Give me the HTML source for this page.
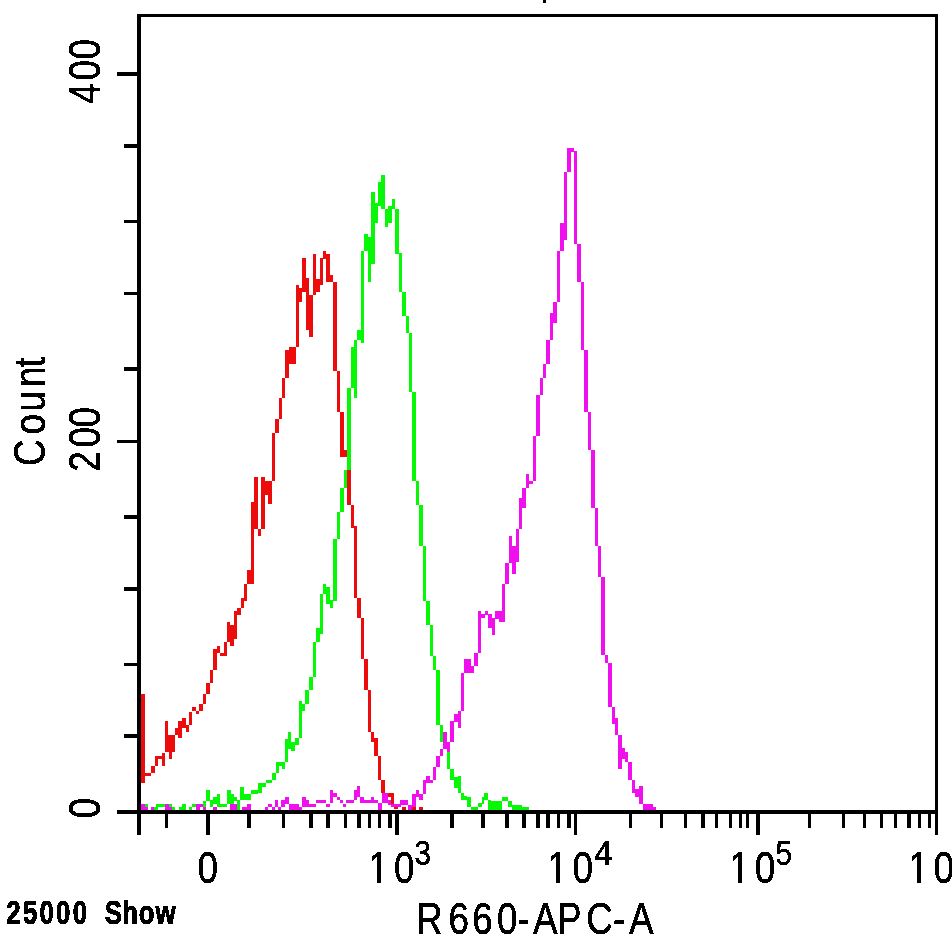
<!DOCTYPE html>
<html lang="en">
<head>
<meta charset="utf-8">
<title>R660-APC-A histogram</title>
<style>
html,body{margin:0;padding:0;background:#fff;}
body{width:952px;height:942px;overflow:hidden;position:relative;}
svg{display:block;position:absolute;left:0;top:0;}
</style>
</head>
<body>
<svg width="952" height="942" viewBox="0 0 952 942" shape-rendering="crispEdges">
<defs><filter id="hb" x="-5%" y="-20%" width="110%" height="140%"><feComponentTransfer><feFuncA type="discrete" tableValues="0 1"/></feComponentTransfer></filter><filter id="th" x="-10%" y="-10%" width="120%" height="120%"><feComponentTransfer><feFuncA type="discrete" tableValues="0 1"/></feComponentTransfer></filter><clipPath id="c3"><path clip-rule="evenodd" d="M339.5 830H439.5V900H339.5Z M368.5 878.5H377V885H368.5Z M381 878.5H390.5V885H381Z"/></clipPath><clipPath id="c4"><path clip-rule="evenodd" d="M518.5 830H618.5V900H518.5Z M547.5 878.5H556V885H547.5Z M560 878.5H569.5V885H560Z"/></clipPath><clipPath id="c5"><path clip-rule="evenodd" d="M700.3 830H800.3V900H700.3Z M729.3 878.5H737.8V885H729.3Z M741.8 878.5H751.3V885H741.8Z"/></clipPath><clipPath id="c6"><path clip-rule="evenodd" d="M879.5 830H979.5V900H879.5Z M908.5 878.5H917V885H908.5Z M921 878.5H930.5V885H921Z"/></clipPath></defs>
<g fill="#000">
<rect x="137" y="14" width="4" height="821"/>
<rect x="137" y="14" width="801" height="3"/>
<rect x="935" y="14" width="3" height="821"/>
<rect x="117" y="810" width="821" height="4"/>
<rect x="543" y="0" width="3" height="3"/>
<rect x="117" y="72" width="20" height="4"/>
<rect x="117" y="440" width="20" height="3"/>
<rect x="124" y="144" width="13" height="4"/>
<rect x="124" y="220" width="13" height="3"/>
<rect x="124" y="292" width="13" height="3"/>
<rect x="124" y="367" width="13" height="4"/>
<rect x="124" y="515" width="13" height="4"/>
<rect x="124" y="587" width="13" height="4"/>
<rect x="124" y="663" width="13" height="3"/>
<rect x="124" y="734" width="13" height="4"/>
<rect x="206" y="814" width="4" height="21"/>
<rect x="395" y="814" width="4" height="21"/>
<rect x="574" y="814" width="3" height="21"/>
<rect x="756" y="814" width="4" height="21"/>
<rect x="165" y="814" width="3" height="14"/>
<rect x="247" y="814" width="4" height="14"/>
<rect x="282" y="814" width="3" height="14"/>
<rect x="309" y="814" width="4" height="14"/>
<rect x="326" y="814" width="4" height="14"/>
<rect x="344" y="814" width="3" height="14"/>
<rect x="357" y="814" width="4" height="14"/>
<rect x="368" y="814" width="3" height="14"/>
<rect x="378" y="814" width="3" height="14"/>
<rect x="388" y="814" width="4" height="14"/>
<rect x="450" y="814" width="4" height="14"/>
<rect x="481" y="814" width="4" height="14"/>
<rect x="505" y="814" width="4" height="14"/>
<rect x="522" y="814" width="4" height="14"/>
<rect x="536" y="814" width="4" height="14"/>
<rect x="546" y="814" width="4" height="14"/>
<rect x="557" y="814" width="3" height="14"/>
<rect x="567" y="814" width="4" height="14"/>
<rect x="629" y="814" width="3" height="14"/>
<rect x="660" y="814" width="3" height="14"/>
<rect x="684" y="814" width="3" height="14"/>
<rect x="701" y="814" width="4" height="14"/>
<rect x="715" y="814" width="3" height="14"/>
<rect x="729" y="814" width="3" height="14"/>
<rect x="739" y="814" width="3" height="14"/>
<rect x="746" y="814" width="3" height="14"/>
<rect x="808" y="814" width="3" height="14"/>
<rect x="842" y="814" width="3" height="14"/>
<rect x="863" y="814" width="3" height="14"/>
<rect x="880" y="814" width="3" height="14"/>
<rect x="894" y="814" width="3" height="14"/>
<rect x="907" y="814" width="4" height="14"/>
<rect x="918" y="814" width="3" height="14"/>
<rect x="928" y="814" width="3" height="14"/>
</g>
<g fill="#ec0c0c">
<rect x="141" y="694" width="3.5" height="89"/>
<rect x="144.5" y="773" width="6.5" height="3"/>
<rect x="151" y="766" width="4" height="7"/>
<rect x="155" y="756" width="3" height="10"/>
<rect x="158" y="756" width="4" height="3"/>
<rect x="162" y="752.5" width="3" height="13"/>
<rect x="165" y="721" width="3" height="31"/>
<rect x="168" y="735" width="7" height="17"/>
<rect x="168.5" y="752" width="3" height="6.7"/>
<rect x="175" y="728" width="3" height="7"/>
<rect x="178" y="721" width="4" height="17"/>
<rect x="182" y="718" width="3.6" height="10"/>
<rect x="185.6" y="725" width="3.4" height="7"/>
<rect x="189" y="711.5" width="3" height="13.5"/>
<rect x="192" y="707" width="3.5" height="4"/>
<rect x="195.5" y="710.6" width="3.5" height="3.2"/>
<rect x="199" y="704" width="4" height="6.6"/>
<rect x="203" y="694" width="3" height="10"/>
<rect x="206" y="683" width="4" height="11"/>
<rect x="210" y="669.7" width="3.4" height="13.3"/>
<rect x="213.4" y="649.4" width="3.4" height="20.3"/>
<rect x="216.8" y="646" width="3.2" height="6.7"/>
<rect x="220" y="652.7" width="3.5" height="2.9"/>
<rect x="223.5" y="642.4" width="3.5" height="13.2"/>
<rect x="227" y="622" width="3.4" height="20.4"/>
<rect x="230.4" y="625" width="3.4" height="20.6"/>
<rect x="233.8" y="611" width="3.2" height="27.7"/>
<rect x="237" y="608" width="3.7" height="6.5"/>
<rect x="240.7" y="598" width="3.5" height="10"/>
<rect x="244.2" y="584" width="3.1" height="17"/>
<rect x="247.3" y="570.4" width="3.5" height="13.1"/>
<rect x="250.8" y="501.7" width="3.6" height="81.8"/>
<rect x="254.4" y="477" width="3.4" height="52"/>
<rect x="257.8" y="529" width="3.4" height="6.7"/>
<rect x="261.2" y="477" width="3.8" height="52"/>
<rect x="265" y="481.3" width="3" height="13.7"/>
<rect x="268" y="481.3" width="3.8" height="23"/>
<rect x="271.8" y="433" width="3.4" height="47.5"/>
<rect x="275.2" y="419.3" width="3.3" height="13.7"/>
<rect x="278.5" y="397.7" width="3.5" height="21.6"/>
<rect x="282" y="378" width="3.2" height="19.7"/>
<rect x="285.2" y="350" width="3.8" height="28"/>
<rect x="289" y="347" width="6.7" height="17"/>
<rect x="295.7" y="285.3" width="3.5" height="61.7"/>
<rect x="299.2" y="287.8" width="2.8" height="13.8"/>
<rect x="302" y="258.2" width="3.9" height="33.4"/>
<rect x="305.9" y="278.2" width="2.8" height="51.6"/>
<rect x="308.7" y="295" width="3.9" height="41.5"/>
<rect x="312.6" y="254.3" width="3.2" height="40.7"/>
<rect x="315.8" y="279.2" width="3.8" height="12.8"/>
<rect x="319.6" y="258.2" width="3.5" height="27.1"/>
<rect x="323.1" y="251" width="3.2" height="8"/>
<rect x="326.3" y="254.3" width="3.5" height="27.4"/>
<rect x="329.8" y="275.4" width="3.2" height="6.6"/>
<rect x="333" y="282" width="3.8" height="89"/>
<rect x="336.8" y="371" width="3.5" height="41"/>
<rect x="340.3" y="411.7" width="3.3" height="45"/>
<rect x="343.6" y="450.3" width="3.4" height="6.4"/>
<rect x="347" y="456.7" width="4.3" height="48.1"/>
<rect x="351.3" y="504.8" width="2.7" height="23.2"/>
<rect x="354" y="525.5" width="3.4" height="72.2"/>
<rect x="357.4" y="597.7" width="3.4" height="20.3"/>
<rect x="360.8" y="618" width="3.4" height="40.8"/>
<rect x="364.2" y="658.8" width="3.6" height="31.2"/>
<rect x="367.8" y="690" width="3.2" height="42"/>
<rect x="371" y="732" width="3.4" height="9.5"/>
<rect x="374.4" y="738.2" width="3.3" height="17.6"/>
<rect x="377.7" y="755.8" width="3.3" height="24.2"/>
<rect x="381" y="780" width="3.6" height="13"/>
<rect x="384.6" y="793" width="9.4" height="4"/>
<rect x="390.5" y="793" width="3.5" height="14"/>
<rect x="394" y="805" width="3.7" height="4"/>
<rect x="402" y="807" width="3.7" height="3"/>
<rect x="412" y="807" width="3.5" height="3"/>
<rect x="419" y="807" width="3.7" height="3"/>
</g>
<g fill="#06f806">
<rect x="144.5" y="804" width="3" height="3"/>
<rect x="154.4" y="807" width="3.4" height="3"/>
<rect x="155.8" y="804" width="9.5" height="3"/>
<rect x="168.7" y="804" width="2.8" height="3"/>
<rect x="171.5" y="807" width="3.1" height="3"/>
<rect x="179" y="807" width="3" height="3"/>
<rect x="182" y="804" width="3.5" height="6"/>
<rect x="189.2" y="807" width="3" height="3"/>
<rect x="192.2" y="804" width="3.8" height="3"/>
<rect x="202.9" y="800.6" width="3" height="6.4"/>
<rect x="205.9" y="790" width="3.8" height="10.6"/>
<rect x="209.7" y="799.6" width="3.4" height="7.4"/>
<rect x="213.1" y="797" width="3.4" height="6.7"/>
<rect x="216.5" y="793.5" width="3.5" height="13.5"/>
<rect x="220" y="804" width="7.4" height="3"/>
<rect x="227.4" y="790" width="3.5" height="14"/>
<rect x="230.9" y="793.5" width="2.7" height="10.5"/>
<rect x="233.6" y="797" width="3.4" height="4"/>
<rect x="237" y="800.3" width="3.4" height="9.7"/>
<rect x="240.4" y="786.6" width="3.4" height="13.7"/>
<rect x="243.8" y="793.5" width="6.9" height="6.1"/>
<rect x="250.7" y="790" width="7.5" height="3.5"/>
<rect x="258.2" y="783.2" width="3.4" height="9.3"/>
<rect x="261.6" y="782.6" width="4.2" height="4"/>
<rect x="265.8" y="780" width="6.5" height="3"/>
<rect x="272.3" y="772.7" width="3.3" height="7.3"/>
<rect x="275.6" y="762.4" width="3.4" height="10.3"/>
<rect x="279" y="762.4" width="3.2" height="3.6"/>
<rect x="282.2" y="762.4" width="2.8" height="6.2"/>
<rect x="285" y="738.7" width="3.3" height="23.7"/>
<rect x="288.3" y="732.4" width="3" height="16.5"/>
<rect x="291.3" y="742.3" width="4.1" height="9"/>
<rect x="295.4" y="738.2" width="3.3" height="6.5"/>
<rect x="298.7" y="701" width="3.3" height="37.2"/>
<rect x="302" y="703.6" width="3.3" height="7.4"/>
<rect x="305.3" y="690" width="3.7" height="14"/>
<rect x="309" y="677" width="3.7" height="13"/>
<rect x="312.7" y="642" width="3.6" height="35"/>
<rect x="316.3" y="628" width="3.7" height="14"/>
<rect x="320" y="594" width="3" height="40"/>
<rect x="323" y="584" width="3.3" height="10"/>
<rect x="326.3" y="587" width="3.4" height="16.7"/>
<rect x="329.7" y="600" width="3.3" height="7.6"/>
<rect x="333" y="539" width="4" height="61.8"/>
<rect x="337" y="512" width="3.2" height="27"/>
<rect x="340.2" y="488" width="3.8" height="24"/>
<rect x="344" y="470.3" width="3.3" height="17.7"/>
<rect x="347.3" y="388" width="3.7" height="82.3"/>
<rect x="351" y="347" width="3" height="41"/>
<rect x="354" y="340.4" width="3" height="57.3"/>
<rect x="357" y="330.2" width="3.7" height="10.2"/>
<rect x="360.7" y="251" width="3.5" height="92.2"/>
<rect x="364.2" y="234" width="3.6" height="17"/>
<rect x="367.8" y="237" width="3.5" height="44.7"/>
<rect x="371.3" y="192.2" width="3.5" height="71.8"/>
<rect x="374.8" y="203" width="3.2" height="19.6"/>
<rect x="378" y="182" width="3.2" height="24.2"/>
<rect x="381.2" y="175.2" width="3.6" height="33.4"/>
<rect x="385" y="209" width="3" height="17.7"/>
<rect x="388" y="206.2" width="4" height="16.4"/>
<rect x="392" y="199" width="3" height="9.8"/>
<rect x="395" y="209" width="3.8" height="45"/>
<rect x="398.8" y="253.4" width="3" height="38.2"/>
<rect x="401.8" y="291.6" width="3.9" height="23.9"/>
<rect x="405.7" y="315.5" width="3.4" height="17.5"/>
<rect x="409.1" y="333" width="3.3" height="59"/>
<rect x="412.4" y="392" width="3.4" height="88.5"/>
<rect x="415.8" y="480.5" width="3.4" height="24.3"/>
<rect x="419.2" y="504.8" width="3.6" height="41.1"/>
<rect x="422.8" y="545.9" width="3.4" height="54.9"/>
<rect x="426.2" y="600.8" width="3.8" height="23.7"/>
<rect x="430" y="624.5" width="3" height="31.5"/>
<rect x="433" y="656" width="3.2" height="14"/>
<rect x="436.2" y="670" width="3.8" height="54.6"/>
<rect x="440" y="724.6" width="3.2" height="17.4"/>
<rect x="443.2" y="742" width="3.6" height="7"/>
<rect x="446.8" y="751.8" width="3" height="17"/>
<rect x="449.8" y="768.8" width="4.2" height="11.6"/>
<rect x="454" y="776.8" width="3.5" height="10.7"/>
<rect x="457.5" y="776.4" width="3.2" height="16.5"/>
<rect x="460.7" y="792.9" width="3.6" height="7.1"/>
<rect x="464.3" y="796.4" width="3" height="3.6"/>
<rect x="467.3" y="797.3" width="3.6" height="9.7"/>
<rect x="470.9" y="807" width="7.1" height="3"/>
<rect x="478" y="802.7" width="3.6" height="4.3"/>
<rect x="481.6" y="797.3" width="2.7" height="6.3"/>
<rect x="484.3" y="793.2" width="3.6" height="6.8"/>
<rect x="487.9" y="800" width="3.5" height="10"/>
<rect x="491.4" y="801" width="10.6" height="9"/>
<rect x="502" y="797.3" width="6.4" height="3.7"/>
<rect x="508.4" y="801" width="3.6" height="6"/>
<rect x="512" y="804.5" width="9.8" height="5.5"/>
<rect x="521.8" y="807" width="7.2" height="3"/>
</g>
<g fill="#f010ee">
<rect x="141" y="804" width="3.5" height="6"/>
<rect x="144.5" y="807" width="3" height="3"/>
<rect x="151" y="807" width="3.4" height="3"/>
<rect x="165.3" y="804" width="3.4" height="6"/>
<rect x="168.7" y="807" width="2.8" height="3"/>
<rect x="196" y="804" width="6.9" height="3"/>
<rect x="196" y="804" width="3.5" height="6"/>
<rect x="202.9" y="807" width="3" height="3"/>
<rect x="213" y="807" width="3.5" height="3"/>
<rect x="230.2" y="804" width="6.4" height="6"/>
<rect x="241.8" y="807" width="5.4" height="3"/>
<rect x="247.2" y="804" width="3.5" height="6"/>
<rect x="265" y="806.5" width="3.2" height="3.5"/>
<rect x="268.2" y="804" width="3.3" height="3"/>
<rect x="271.5" y="806.5" width="3.3" height="3.5"/>
<rect x="274.8" y="800" width="3" height="7"/>
<rect x="277.8" y="806.5" width="3.6" height="3.5"/>
<rect x="281.4" y="800" width="3.3" height="7"/>
<rect x="284.7" y="797" width="4.1" height="7"/>
<rect x="288.8" y="804" width="9.9" height="6"/>
<rect x="298.7" y="806.5" width="3.3" height="3.5"/>
<rect x="302" y="797" width="3.7" height="9.5"/>
<rect x="305.7" y="800" width="3.3" height="6.5"/>
<rect x="309" y="804" width="7" height="2.5"/>
<rect x="316" y="800" width="9.8" height="3.2"/>
<rect x="325.8" y="804" width="4.2" height="2.5"/>
<rect x="330" y="790" width="3.2" height="13.2"/>
<rect x="333.2" y="793" width="3.3" height="4"/>
<rect x="336.5" y="797" width="3.3" height="3"/>
<rect x="339.8" y="800" width="3.2" height="3.2"/>
<rect x="343" y="804" width="3.4" height="2.5"/>
<rect x="346.4" y="800" width="7.4" height="3.2"/>
<rect x="353.8" y="790" width="3.2" height="10"/>
<rect x="357" y="786" width="3.4" height="11"/>
<rect x="360.4" y="797" width="3.3" height="6.2"/>
<rect x="363.7" y="800" width="14" height="3.2"/>
<rect x="371" y="797" width="3.4" height="3.8"/>
<rect x="377.7" y="803.2" width="4.1" height="6.8"/>
<rect x="381.8" y="793" width="5.7" height="10.2"/>
<rect x="387.5" y="800" width="3.5" height="5"/>
<rect x="391" y="803.6" width="6.7" height="3.4"/>
<rect x="397.7" y="803.6" width="3.5" height="3.4"/>
<rect x="399.5" y="800" width="8.9" height="4.5"/>
<rect x="408.4" y="804.5" width="3.6" height="5.5"/>
<rect x="412" y="793.7" width="3.5" height="13.3"/>
<rect x="415.5" y="790" width="3.5" height="7.3"/>
<rect x="419" y="793.7" width="3.7" height="6.3"/>
<rect x="422.7" y="780.4" width="3.5" height="13.3"/>
<rect x="426.2" y="776.4" width="3.6" height="6.6"/>
<rect x="429.8" y="779.5" width="3.1" height="3.5"/>
<rect x="432.9" y="767" width="3.1" height="13.4"/>
<rect x="436" y="756" width="3.6" height="11"/>
<rect x="439.6" y="749" width="3.6" height="7"/>
<rect x="443.2" y="732" width="3.6" height="17"/>
<rect x="446.8" y="742" width="3" height="9.8"/>
<rect x="449.8" y="721.4" width="4.2" height="20.6"/>
<rect x="454" y="713.7" width="3.6" height="8.6"/>
<rect x="457.6" y="710.8" width="3.1" height="16.9"/>
<rect x="460.7" y="673" width="3.5" height="37.8"/>
<rect x="464.2" y="659" width="6.5" height="14"/>
<rect x="470.7" y="666" width="3.3" height="7"/>
<rect x="474" y="653" width="3.8" height="13"/>
<rect x="477.8" y="611" width="3.4" height="42"/>
<rect x="481.2" y="614.4" width="3.4" height="3.6"/>
<rect x="484.6" y="611" width="3.6" height="4.2"/>
<rect x="488.2" y="614.4" width="3.4" height="13.6"/>
<rect x="491.6" y="617.7" width="3.4" height="17"/>
<rect x="495" y="611" width="3.7" height="7.6"/>
<rect x="498.7" y="611" width="3.4" height="11"/>
<rect x="502.1" y="583.8" width="3.1" height="38.2"/>
<rect x="505.2" y="562.9" width="3.7" height="20.9"/>
<rect x="508.9" y="536" width="3.4" height="27"/>
<rect x="512.3" y="545.9" width="3.4" height="27.7"/>
<rect x="509" y="546" width="9.7" height="16"/>
<rect x="515.7" y="529" width="3" height="33"/>
<rect x="518.7" y="498" width="3.4" height="31"/>
<rect x="522.1" y="487.8" width="3.4" height="19.9"/>
<rect x="525.5" y="474.2" width="3.5" height="13.6"/>
<rect x="529" y="480.5" width="3.7" height="3.5"/>
<rect x="532.7" y="435.8" width="3.3" height="44.7"/>
<rect x="536" y="395" width="4" height="40.8"/>
<rect x="540" y="378.2" width="3" height="16.8"/>
<rect x="543" y="364" width="3.3" height="14.2"/>
<rect x="546.3" y="340" width="3.7" height="24"/>
<rect x="550" y="313" width="3" height="27"/>
<rect x="553" y="301.8" width="4" height="20.7"/>
<rect x="557" y="251" width="3" height="50.8"/>
<rect x="560" y="223" width="3.8" height="27.6"/>
<rect x="563.8" y="171.7" width="3.4" height="68.1"/>
<rect x="567.2" y="148.3" width="3.8" height="23.4"/>
<rect x="571" y="148.3" width="2.8" height="3.2"/>
<rect x="573.8" y="151" width="3.2" height="92.8"/>
<rect x="577" y="243.8" width="3.8" height="38.2"/>
<rect x="580.8" y="282" width="3.4" height="67.6"/>
<rect x="584.2" y="349.6" width="4" height="62.4"/>
<rect x="588.2" y="412" width="3" height="37.7"/>
<rect x="591.2" y="449.7" width="3.8" height="58"/>
<rect x="595" y="507.7" width="3.2" height="37.8"/>
<rect x="598.2" y="545.5" width="3" height="31.2"/>
<rect x="601.2" y="576.7" width="3.4" height="78.7"/>
<rect x="604.6" y="655.4" width="3.2" height="7.3"/>
<rect x="607.8" y="662.7" width="3.7" height="44.1"/>
<rect x="611.5" y="706.8" width="3.2" height="17.5"/>
<rect x="614.7" y="718.2" width="3.6" height="16.4"/>
<rect x="618.3" y="734.6" width="3.5" height="34.2"/>
<rect x="621.8" y="748.3" width="3.2" height="10.3"/>
<rect x="625" y="751.7" width="3.4" height="10.3"/>
<rect x="628.4" y="762" width="3.4" height="18.2"/>
<rect x="631.8" y="780.2" width="3.6" height="12.6"/>
<rect x="635.4" y="789.4" width="3.5" height="8"/>
<rect x="638.9" y="786" width="3.8" height="18.2"/>
<rect x="642.7" y="804.2" width="10.3" height="5.8"/>
<rect x="653" y="806.5" width="3" height="3.5"/>
</g>
<g font-family="'Liberation Sans', Arial, Helvetica, sans-serif" fill="#000" stroke="#000" stroke-width="0.5" filter="url(#th)">
<text transform="translate(100,0) rotate(-90) scale(0.82,1)" x="-126.6 -98.1 -72.5" y="0" font-size="45">400</text>
<text transform="translate(100,0) rotate(-90) scale(0.82,1)" x="-575.4 -545.7 -521.3" y="0" font-size="45">200</text>
<text transform="translate(100,0) rotate(-90) scale(0.82,1)" x="-998.1" y="0" font-size="45">0</text>
<text transform="translate(45,0) rotate(-90) scale(0.82,1)" x="-568.3 -529.9 -501.7 -472 -448.3" y="0" font-size="45">Count</text>
<text transform="scale(0.82,1)" x="240.9" y="883" font-size="45">0</text>
<g clip-path="url(#c3)"><text transform="scale(0.82,1)" x="449.5 480.4" y="883" font-size="45">10</text></g>
<text transform="scale(0.85,1)" x="487.8" y="865" font-size="35">3</text>
<g clip-path="url(#c4)"><text transform="scale(0.82,1)" x="667.8 698.2" y="883" font-size="45">10</text></g>
<text transform="scale(0.95,1)" x="625.5" y="865" font-size="35">4</text>
<g clip-path="url(#c5)"><text transform="scale(0.82,1)" x="889.5 920.5" y="883" font-size="45">10</text></g>
<text transform="scale(0.85,1)" x="912.5" y="865" font-size="35">5</text>
<g clip-path="url(#c6)"><text transform="scale(0.82,1)" x="1108 1138.4" y="883" font-size="45">10</text></g>
<text transform="scale(0.85,1)" x="1123" y="865" font-size="35">6</text>
<text transform="scale(0.82,1)" x="507.3 546.9 576 606.1 630.9 649.9 679.2 714.8 747.7 767" y="934" font-size="45">R660-APC-A</text>
</g>
<g filter="url(#hb)"><text transform="scale(0.77,1)" x="17.5 39.1 60.6 82.2 103.8 125.3 147.1 169.1 190.5 214.9" y="924" text-anchor="middle" font-family="'Liberation Sans', Arial, sans-serif" font-weight="bold" font-size="33.5" fill="#000" stroke="#000" stroke-width="0.9">25000 Show</text></g>
</svg>
</body>
</html>
